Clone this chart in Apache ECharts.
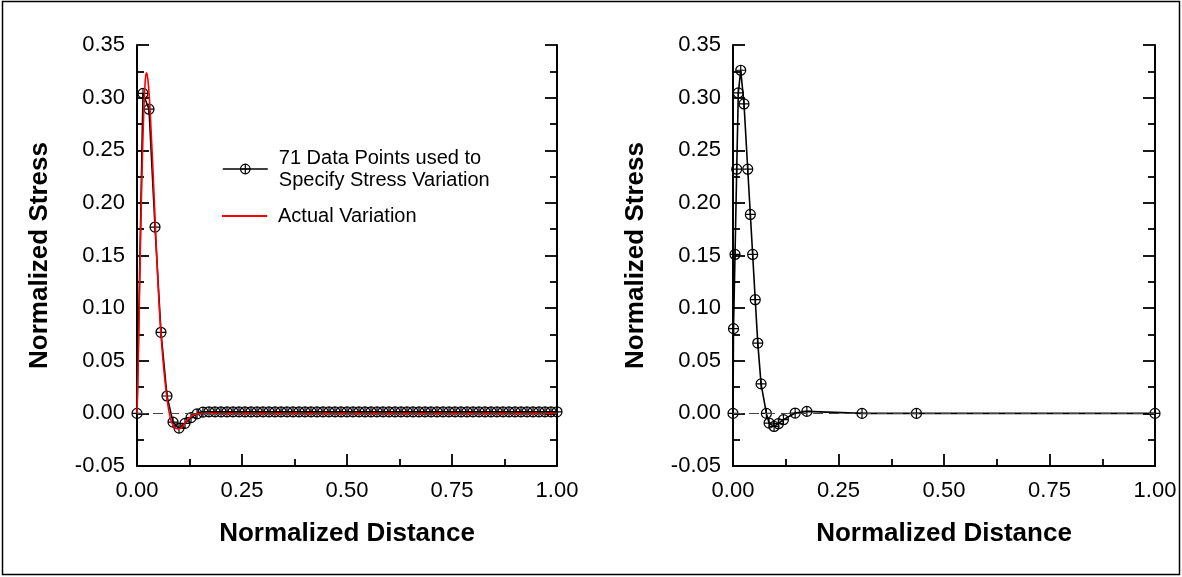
<!DOCTYPE html>
<html>
<head>
<meta charset="utf-8">
<script src="https://cdn.jsdelivr.net/npm/echarts@6/dist/echarts.min.js"></script>
<style>
html,body{margin:0;padding:0;background:#fff;}
#chart{width:1182px;height:577px;}
</style>
</head>
<body>
<div id="chart"></div>
<script>
// ---------- DATA ----------
const xTickLabels = ['0.00', '0.25', '0.50', '0.75', '1.00'];
const yTickLabels = ['-0.05', '0.00', '0.05', '0.10', '0.15', '0.20', '0.25', '0.30', '0.35'];

// Left panel: 71 evenly spaced data points
const leftPointX = [
  0.0000, 0.0143, 0.0286, 0.0429, 0.0571, 0.0714, 0.0857, 0.1000, 0.1143, 0.1286,
  0.1429, 0.1571, 0.1714, 0.1857, 0.2000, 0.2143, 0.2286, 0.2429, 0.2571, 0.2714,
  0.2857, 0.3000, 0.3143, 0.3286, 0.3429, 0.3571, 0.3714, 0.3857, 0.4000, 0.4143,
  0.4286, 0.4429, 0.4571, 0.4714, 0.4857, 0.5000, 0.5143, 0.5286, 0.5429, 0.5571,
  0.5714, 0.5857, 0.6000, 0.6143, 0.6286, 0.6429, 0.6571, 0.6714, 0.6857, 0.7000,
  0.7143, 0.7286, 0.7429, 0.7571, 0.7714, 0.7857, 0.8000, 0.8143, 0.8286, 0.8429,
  0.8571, 0.8714, 0.8857, 0.9000, 0.9143, 0.9286, 0.9429, 0.9571, 0.9714, 0.9857,
  1.0000
];
const leftPointY = [
  0.000, 0.304, 0.289, 0.177, 0.077, 0.0165, -0.0083, -0.014, -0.0095, -0.004,
  -0.0005, 0.0012, 0.0015, 0.0015, 0.0015, 0.0015, 0.0015, 0.0015, 0.0015, 0.0015,
  0.0015, 0.0015, 0.0015, 0.0015, 0.0015, 0.0015, 0.0015, 0.0015, 0.0015, 0.0015,
  0.0015, 0.0015, 0.0015, 0.0015, 0.0015, 0.0015, 0.0015, 0.0015, 0.0015, 0.0015,
  0.0015, 0.0015, 0.0015, 0.0015, 0.0015, 0.0015, 0.0015, 0.0015, 0.0015, 0.0015,
  0.0015, 0.0015, 0.0015, 0.0015, 0.0015, 0.0015, 0.0015, 0.0015, 0.0015, 0.0015,
  0.0015, 0.0015, 0.0015, 0.0015, 0.0015, 0.0015, 0.0015, 0.0015, 0.0015, 0.0015,
  0.0015
];

// Left panel: actual (smooth) variation
const actualX = [
  0.000, 0.002, 0.004, 0.007, 0.010, 0.013, 0.016, 0.019, 0.022, 0.025,
  0.028, 0.031, 0.034, 0.037, 0.040, 0.043, 0.046, 0.049, 0.052, 0.055,
  0.058, 0.062, 0.066, 0.070, 0.074, 0.078, 0.082, 0.087, 0.093, 0.100,
  0.107, 0.115, 0.123, 0.132, 0.142, 0.155, 0.170, 0.200, 0.300, 0.500,
  0.750, 1.000
];
const actualY = [
  0.000, 0.030, 0.070, 0.136, 0.195, 0.245, 0.285, 0.312, 0.3235, 0.320,
  0.308, 0.290, 0.265, 0.240, 0.213, 0.185, 0.158, 0.132, 0.108, 0.088,
  0.070, 0.050, 0.033, 0.019, 0.007, -0.002, -0.008, -0.012, -0.0145, -0.0148,
  -0.013, -0.009, -0.005, -0.002, -0.0005, 0.000, 0.0003, 0.000, 0.000, 0.000,
  0.000, 0.000
];

// Right panel: non-uniform data points
const rightPointX = [
  0.0000, 0.0012, 0.0048, 0.0088, 0.0126, 0.0183, 0.0261, 0.0349, 0.0411, 0.0466,
  0.0527, 0.0587, 0.0665, 0.0791, 0.0855, 0.0974, 0.1076, 0.1195, 0.1473, 0.1750,
  0.3057, 0.4347, 1.0000
];
const rightPointY = [
  0.000, 0.0805, 0.151, 0.232, 0.3045, 0.326, 0.294, 0.232, 0.189, 0.151,
  0.108, 0.0668, 0.028, 0.000, -0.0092, -0.0124, -0.0098, -0.006, 0.0003, 0.0019,
  0.000, 0.000, 0.000
];

const seriesNames = {
  points: '71 Data Points used to\nSpecify Stress Variation',
  actual: 'Actual Variation',
  right: 'Specified Points'
};
const axisTitles = { x: 'Normalized Distance', y: 'Normalized Stress' };

// ---------- BUILD ----------
const zip = (xs, ys) => xs.map((x, i) => [x, ys[i]]);
const FONT = '"Liberation Sans", Arial, sans-serif';
const plusCircle = 'path://M10,0A10,10 0 1,1 10,20A10,10 0 1,1 10,0ZM0,10L20,10M10,0L10,20';

function xAxisFor(gridIndex) {
  return {
    type: 'value', gridIndex, min: 0, max: 1, interval: 0.25, position: 'bottom',
    name: axisTitles.x, nameLocation: 'middle', nameGap: 55,
    nameTextStyle: { fontFamily: FONT, fontSize: 26, fontWeight: 'bold', color: '#000' },
    axisLine: { show: true, onZero: false, lineStyle: { color: '#000', width: 2 } },
    axisTick: { show: true, inside: true, length: 12, lineStyle: { color: '#000', width: 1.8 } },
    minorTick: { show: true, splitNumber: 2, length: 7, lineStyle: { color: '#000', width: 1.8 } },
    axisLabel: { show: true, margin: 14, fontFamily: FONT, fontSize: 22, color: '#000',
      formatter: v => xTickLabels[Math.round(v / 0.25)] },
    splitLine: { show: false }, minorSplitLine: { show: false }
  };
}
function yAxisFor(gridIndex, side) {
  const left = side === 'left';
  return {
    type: 'value', gridIndex, min: -0.05, max: 0.35, interval: 0.05, position: side,
    name: left ? axisTitles.y : '', nameLocation: 'middle', nameGap: 84,
    nameTextStyle: { fontFamily: FONT, fontSize: 26, fontWeight: 'bold', color: '#000' },
    axisLine: { show: true, onZero: false, lineStyle: { color: '#000', width: 2 } },
    axisTick: { show: true, inside: true, length: 12, lineStyle: { color: '#000', width: 1.8 } },
    minorTick: { show: true, splitNumber: 2, length: 7, lineStyle: { color: '#000', width: 1.8 } },
    axisLabel: { show: left, margin: 12, fontFamily: FONT, fontSize: 22, color: '#000',
      formatter: v => yTickLabels[Math.round((v + 0.05) / 0.05)] },
    splitLine: { show: false }, minorSplitLine: { show: false }
  };
}
const zeroLine = {
  silent: true, symbol: 'none', animation: false,
  label: { show: false },
  lineStyle: { type: [10, 6], color: '#444', width: 1.2 },
  data: [{ yAxis: 0 }]
};
const pointStyle = {
  symbol: plusCircle, symbolSize: 10, symbolKeepAspect: true, showAllSymbol: true,
  itemStyle: { color: 'rgba(0,0,0,0)', borderColor: '#000', borderWidth: 1.2 },
  lineStyle: { color: '#000', width: 1.6 },
  emphasis: { disabled: true }
};

const option = {
  animation: false,
  backgroundColor: '#fff',
  textStyle: { fontFamily: FONT },
  grid: [
    { left: 137, right: 625, top: 45, bottom: 111 },
    { left: 733, right: 27, top: 45, bottom: 111 }
  ],
  xAxis: [xAxisFor(0), xAxisFor(1)],
  yAxis: [yAxisFor(0, 'left'), yAxisFor(0, 'right'), yAxisFor(1, 'left'), yAxisFor(1, 'right')],
  legend: [
    {
      data: [seriesNames.points], left: 222, top: 136, padding: 0, orient: 'vertical',
      itemWidth: 45, itemHeight: 12, selectedMode: false,
      itemStyle: { color: 'rgba(0,0,0,0)', borderColor: '#000', borderWidth: 1.2 },
      lineStyle: { color: '#000', width: 1.6 },
      textStyle: { fontFamily: FONT, fontSize: 20, lineHeight: 22, color: '#000', padding: [22, 0, 0, 6] }
    },
    {
      data: [{ name: seriesNames.actual, icon: 'rect' }], left: 222, top: 205, padding: 0,
      itemWidth: 45, itemHeight: 2, selectedMode: false,
      itemStyle: { color: '#ff0000', borderWidth: 0 },
      textStyle: { fontFamily: FONT, fontSize: 20, lineHeight: 22, color: '#000', padding: [0, 0, 0, 6] }
    }
  ],
  series: [
    Object.assign({
      name: seriesNames.points, type: 'line', xAxisIndex: 0, yAxisIndex: 0,
      data: zip(leftPointX, leftPointY), z: 3, markLine: zeroLine
    }, pointStyle),
    {
      name: seriesNames.actual, type: 'line', xAxisIndex: 0, yAxisIndex: 0,
      data: zip(actualX, actualY), symbol: 'none', smooth: 0.3, z: 4,
      itemStyle: { color: '#ff0000' },
      lineStyle: { color: '#ff0000', width: 1.6 },
      emphasis: { disabled: true }
    },
    Object.assign({
      name: seriesNames.right, type: 'line', xAxisIndex: 1, yAxisIndex: 2,
      data: zip(rightPointX, rightPointY), z: 3, markLine: zeroLine
    }, pointStyle)
  ],
  graphic: [
    { type: 'rect', silent: true, z: 100,
      shape: { x: 2.5, y: 1.5, width: 1177, height: 573 },
      style: { fill: 'none', stroke: '#000', lineWidth: 1.5 } }
  ]
};

const chart = echarts.init(document.getElementById('chart'), null, { renderer: 'canvas' });
chart.setOption(option);
</script>
</body>
</html>
